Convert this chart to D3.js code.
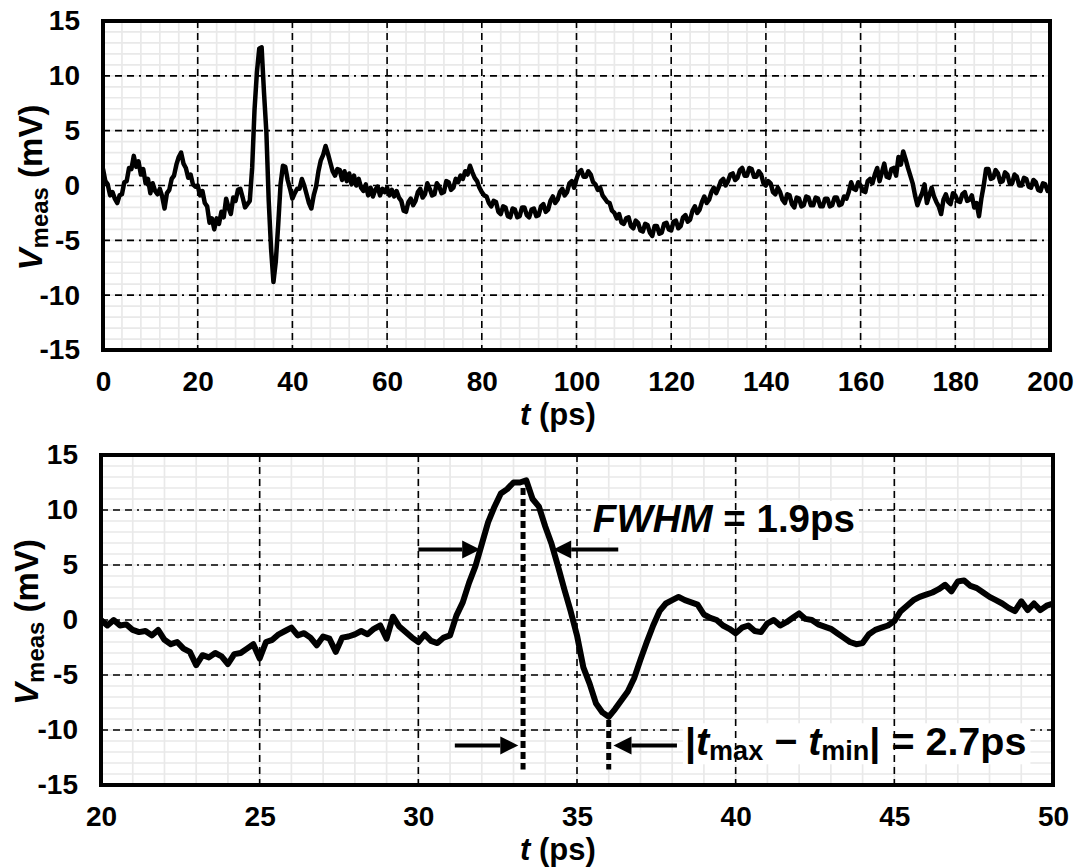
<!DOCTYPE html>
<html><head><meta charset="utf-8">
<script src="https://cdn.jsdelivr.net/npm/d3@7"></script>
<style>
body{margin:0;background:#fff}
text{font-family:"Liberation Sans",Arial,Helvetica,sans-serif;font-weight:bold;fill:#000}
</style>
</head><body>
<svg id="chart" width="1080" height="867"></svg>
<script>
// ---------- DATA ----------
// Top panel: full 0–200 ps record, 0.5 ps sampling
const topTimes = d3.range(0, 401).map(i => i * 0.5);
const topValues = [
 1.5, 0.4, 0.1,-0.9,-0.6,-1.2,-1.6,-0.9,-0.8, 0.3,   // 0–4.5
 0.4, 1.6, 1.5, 2.7, 1.7, 2.2, 1.0, 1.5, 0.2, 0.6,   // 5–9.5
-0.7, 0.2,-0.5,-0.8,-0.3,-1.0,-2.1,-0.7,-0.4, 0.6,   // 10–14.5
 0.9, 1.9, 2.6, 3.0, 2.0, 1.6, 0.7, 1.0, 0.1,-0.1,   // 15–19.5
 0.0,-0.9,-0.5,-1.6,-1.9,-3.4,-3.0,-4.0,-3.0,-3.5,   // 20–24.5
-2.4,-2.9,-1.2,-2.0,-2.6,-1.1,-1.4,-0.4,-0.3,-1.1,   // 25–29.5
-2.0,-1.7,-1.4, 1.6, 6.9,10.3,12.5,12.6, 8.5, 4.9,   // 30–34.5
-1.4,-5.8,-8.8,-6.9,-3.6, 0.1, 1.8, 1.7, 0.5,-0.3,   // 35–39.5
-1.2,-0.7,-0.3,-0.3, 0.6, 0.0,-0.8,-1.6,-2.1,-0.9,   // 40–44.5
-0.1, 1.3, 2.3, 2.8, 3.6, 2.9, 2.1, 1.3, 0.9, 1.5,   // 45–49.5
 1.4, 0.5, 1.3, 0.4, 1.1, 0.1, 0.9, 0.0, 0.6,-0.2,   // 50–54.5
-0.5, 0.1,-0.9,-0.2,-1.0,-0.4,-0.1,-0.9,-0.3,-0.6,   // 55–59.5
-0.2,-0.9,-0.4,-1.0,-0.5,-1.1,-1.4,-2.3,-2.4,-1.5,   // 60–64.5
-1.2,-1.8,-1.4,-0.6,-0.3,-1.1,-0.8, 0.2,-0.3,-0.9,   // 65–69.5
-0.8, 0.2,-0.1,-0.7,-0.6, 0.4, 0.3,-0.4,-0.2, 0.6,   // 70–74.5
 0.3, 0.9, 0.6, 1.3, 1.0, 1.8, 1.2, 0.7, 0.4,-0.2,   // 75–79.5
-0.6,-0.9,-1.0,-1.6,-1.9,-1.4,-1.5,-2.4,-2.6,-1.9,   // 80–84.5
-2.0,-2.8,-2.9,-2.1,-2.2,-2.9,-2.8,-2.0,-2.0,-2.7,   // 85–89.5
-2.9,-2.2,-2.1,-2.8,-2.7,-1.9,-1.7,-2.4,-2.2,-1.4,   // 90–94.5
-1.0,-1.6,-1.3,-0.6,-0.3,-0.9,-0.6, 0.2, 0.4,-0.2,   // 95–99.5
 0.6, 1.2, 1.4, 0.8, 0.8, 1.3, 1.0, 0.3, 0.1,-0.4,   // 100–104.5
-0.2,-0.9,-1.2,-1.5,-1.6,-2.3,-2.5,-3.0,-2.6,-3.4,   // 105–109.5
-3.5,-3.0,-2.9,-3.7,-3.9,-3.2,-3.4,-4.1,-4.2,-3.5,   // 110–114.5
-3.6,-4.3,-4.6,-3.7,-3.7,-4.4,-4.3,-3.5,-3.4,-4.0,   // 115–119.5
-4.1,-3.3,-3.2,-3.9,-3.7,-2.9,-2.7,-3.3,-3.1,-2.3,   // 120–124.5
-1.9,-2.5,-2.2,-1.5,-1.0,-1.6,-1.3,-0.6,-0.2,-0.7,   // 125–129.5
-0.2, 0.4, 0.6, 0.0, 0.4, 1.0, 1.1, 0.5, 0.7, 1.4,   // 130–134.5
 1.6, 0.9, 0.9, 1.6, 1.5, 0.8, 0.8, 1.3, 1.0, 0.2,   // 135–139.5
 0.0, 0.4, 0.2,-0.6,-0.8,-0.2,-0.6,-1.3,-1.6,-0.8,   // 140–144.5
-0.9,-1.7,-2.0,-1.1,-1.2,-1.9,-1.8,-1.0,-1.1,-1.8,   // 145–149.5
-1.8,-1.1,-1.2,-1.9,-1.9,-1.2,-1.2,-1.9,-1.8,-1.1,   // 150–154.5
-1.1,-1.8,-1.7,-1.0,-1.2,-0.6, 0.3,-0.3,-0.4, 0.3,   // 155–159.5
 0.0,-0.5,-0.6, 0.4, 0.6, 0.2, 1.0, 1.6, 0.4, 1.2,   // 160–164.5
 2.0, 0.8, 0.7, 1.5, 1.6, 0.9, 2.6, 1.9, 3.1, 2.4,   // 165–169.5
 1.6, 0.9, 0.2,-0.9,-1.8,-1.2,-0.7, 0.1,-1.6,-0.9,   // 170–174.5
-0.2,-1.0,-1.5,-1.9,-2.6,-1.3,-0.8,-1.5,-1.7,-0.7,   // 175–179.5
-0.9,-1.4,-1.5,-0.8,-0.6,-1.4,-1.3,-0.9,-2.0,-1.6,   // 180–184.5
-2.8,-1.2, 0.0, 1.5, 1.5, 0.6, 0.7, 1.4, 1.1, 0.3,   // 185–189.5
 0.4, 1.2, 1.0, 0.2, 0.2, 1.0, 0.8, 0.0, 0.0, 0.7,   // 190–194.5
 0.6,-0.1,-0.2, 0.5, 0.3,-0.4,-0.5, 0.2, 0.1,-0.5,   // 195–199.5
-0.3                                                 // 200
];

// Bottom panel: zoom 20–50 ps, 0.2 ps sampling
const bottomTimes = d3.range(0, 151).map(i => +(20 + i * 0.2).toFixed(1));
const bottomValues = [
 0.0,-0.5, 0.0,-0.5,-0.4,-0.9,-1.1,-1.0,-1.4,-0.9,
-1.8,-2.2,-2.0,-2.6,-2.9,-4.1,-3.2,-3.4,-3.0,-3.3,
-4.0,-3.1,-3.0,-2.6,-2.2,-3.5,-2.0,-1.8,-1.3,-1.0,
-0.7,-1.4,-1.2,-1.6,-2.3,-1.5,-1.7,-2.9,-1.6,-1.5,
-1.3,-1.0,-1.3,-0.8,-0.5,-1.7, 0.3,-0.6,-1.1,-1.6,
-2.0,-1.3,-1.9,-2.1,-1.6,-1.4, 0.4, 1.6, 3.4, 4.9,
 6.9, 8.9,10.3,11.5,11.9,12.5,12.5,12.7,11.0,10.3,
 8.5, 6.9, 4.9, 2.8, 0.8,-1.4,-4.3,-5.8,-7.6,-8.4,
-8.8,-8.1,-7.3,-6.5,-5.3,-3.6,-2.0,-0.5, 0.8, 1.5,
 1.8, 2.1, 1.8, 1.6, 1.4, 0.5, 0.2, 0.0,-0.5,-0.8,
-1.2,-0.7,-0.5,-1.0,-1.1,-0.3, 0.0,-0.5,-0.2, 0.2,
 0.6, 0.1, 0.0,-0.4,-0.6,-0.8,-1.2,-1.6,-2.0,-2.2,
-2.1,-1.3,-0.9,-0.7,-0.5,-0.1, 0.8, 1.3, 1.8, 2.1,
 2.3, 2.5, 2.8, 3.2, 2.6, 3.5, 3.6, 3.1, 2.9, 2.5,
 2.1, 1.8, 1.5, 1.1, 0.8, 1.7, 0.9, 1.5, 0.9, 1.3,
 1.5
];

// Tick labels
const topXTicks = [0, 20, 40, 60, 80, 100, 120, 140, 160, 180, 200];
const bottomXTicks = [20, 25, 30, 35, 40, 45, 50];
const yTicks = [-15, -10, -5, 0, 5, 10, 15];

// Annotation values (bottom panel)
const tPeak = 33.3;          // t_max
const tTrough = 36.0;        // t_min
const fwhmLeftArrow = [30.0, 31.95];   // tail, tip (ps)
const fwhmRightArrow = [36.3, 34.25];  // tail, tip (ps)
const halfMaxV = 6.4;
const gapArrowLeft = [31.15, 33.15];
const gapArrowRight = [38.15, 36.15];
const gapArrowV = -11.4;

// ---------- DRAW ----------
const svg = d3.select("#chart");
const FONT = "Liberation Sans, Arial, sans-serif";
const plainFmt = d => String(d);   // ASCII hyphen for negatives, as in the original

function panel(cfg) {
  const g = svg.append("g");
  const x = d3.scaleLinear().domain(cfg.xDomain).range([cfg.left, cfg.right]);
  const y = d3.scaleLinear().domain([-15, 15]).range([cfg.bottom, cfg.top]);

  // minor grid
  const minorX = d3.range(cfg.xDomain[0], cfg.xDomain[1] + 1e-9, cfg.minorX);
  const minorY = d3.range(-15, 15 + 1e-9, 1);
  g.append("g").selectAll("line").data(minorX).join("line")
    .attr("x1", d => x(d)).attr("x2", d => x(d))
    .attr("y1", cfg.top).attr("y2", cfg.bottom)
    .attr("stroke", "#e9e9e9").attr("stroke-width", 1.7);
  g.append("g").selectAll("line").data(minorY).join("line")
    .attr("y1", d => y(d)).attr("y2", d => y(d))
    .attr("x1", cfg.left).attr("x2", cfg.right)
    .attr("stroke", "#e9e9e9").attr("stroke-width", 1.7);

  const majorH = g.append("g");
  const overlay = g.append("g");
  const majorV = g.append("g");

  // major horizontal grid (dash-dot)
  majorH.selectAll("line").data(yTicks.slice(1, -1)).join("line")
    .attr("y1", d => y(d)).attr("y2", d => y(d))
    .attr("x1", cfg.left).attr("x2", cfg.right)
    .attr("stroke", "#000").attr("stroke-width", 1.6)
    .attr("stroke-dasharray", "7,5,7,5,7,5,2,5");
  // major vertical grid (dashed)
  majorV.selectAll("line").data(cfg.xTicks.slice(1, -1)).join("line")
    .attr("x1", d => x(d)).attr("x2", d => x(d))
    .attr("y1", cfg.top).attr("y2", cfg.bottom)
    .attr("stroke", "#000").attr("stroke-width", 1.6)
    .attr("stroke-dasharray", "7,5");

  // trace
  const clipId = "clip" + cfg.id;
  svg.append("clipPath").attr("id", clipId).append("rect")
    .attr("x", cfg.left).attr("y", cfg.top)
    .attr("width", cfg.right - cfg.left).attr("height", cfg.bottom - cfg.top);
  const line = d3.line().x((d, i) => x(cfg.times[i])).y(d => y(d));
  g.append("path").datum(cfg.values)
    .attr("d", line).attr("fill", "none").attr("stroke", "#000")
    .attr("stroke-width", cfg.lineWidth).attr("stroke-linejoin", "round")
    .attr("stroke-linecap", "round").attr("clip-path", `url(#${clipId})`);

  // frame
  g.append("rect").attr("x", cfg.left).attr("y", cfg.top)
    .attr("width", cfg.right - cfg.left).attr("height", cfg.bottom - cfg.top)
    .attr("fill", "none").attr("stroke", "#000").attr("stroke-width", 4);

  // axes
  const yAxis = d3.axisLeft(y).tickValues(yTicks).tickSize(0).tickPadding(23).tickFormat(plainFmt);
  const ya = g.append("g").attr("transform", `translate(${cfg.left},0)`).call(yAxis);
  ya.select(".domain").remove();
  ya.selectAll("text").attr("font-size", 28).attr("font-family", FONT).attr("font-weight", "bold");

  const xAxis = d3.axisBottom(x).tickValues(cfg.xTicks).tickSize(0).tickPadding(21).tickFormat(plainFmt);
  const xa = g.append("g").attr("transform", `translate(0,${cfg.bottom})`).call(xAxis);
  xa.select(".domain").remove();
  xa.selectAll("text").attr("font-size", 28).attr("font-family", FONT).attr("font-weight", "bold");

  // axis titles
  const xt = g.append("text").attr("x", 558).attr("y", cfg.bottom + 75)
    .attr("text-anchor", "middle").attr("font-size", 31);
  xt.append("tspan").attr("font-style", "italic").text("t");
  xt.append("tspan").text(" (ps)");

  const yt = g.append("text").attr("transform", `translate(${cfg.yTitleX},${(cfg.top + cfg.bottom) / 2 + 2}) rotate(-90)`)
    .attr("text-anchor", "middle").attr("font-size", 33);
  yt.append("tspan").attr("font-style", "italic").text("V");
  yt.append("tspan").attr("font-size", 24).attr("dy", 6).text("meas");
  yt.append("tspan").attr("dy", -6).text(" (mV)");

  return { g, x, y, overlay };
}

const topPanel = panel({
  id: "top", left: 103, right: 1050, top: 21, bottom: 350,
  xDomain: [0, 200], minorX: 4, xTicks: topXTicks,
  times: topTimes, values: topValues, lineWidth: 4.5, yTitleX: 42
});

const botPanel = panel({
  id: "bot", left: 101, right: 1053, top: 455, bottom: 785,
  xDomain: [20, 50], minorX: 1, xTicks: bottomXTicks,
  times: bottomTimes, values: bottomValues, lineWidth: 6, yTitleX: 38
});

// ---------- ANNOTATIONS (bottom panel) ----------
const bg = botPanel.g, bx = botPanel.x, by = botPanel.y, overlay = botPanel.overlay;
const ann = bg.append("g");

function arrow(t0, t1, v) {
  const x0 = bx(t0), x1 = bx(t1), yy = by(v);
  const dir = Math.sign(x1 - x0);
  const headL = 18, headH = 9;
  ann.append("line").attr("x1", x0).attr("x2", x1 - dir * headL).attr("y1", yy).attr("y2", yy)
    .attr("stroke", "#000").attr("stroke-width", 4);
  ann.append("path")
    .attr("d", `M${x1},${yy} L${x1 - dir * headL},${yy - headH} L${x1 - dir * headL},${yy + headH} Z`)
    .attr("fill", "#000");
}

function labelWithBg(builder) {
  const t = ann.append("text");
  builder(t);
  const bb = t.node().getBBox();
  overlay.append("rect").attr("x", bb.x - 2).attr("y", bb.y + 4)
    .attr("width", bb.width + 6).attr("height", bb.height - 6).attr("fill", "#fff");
  return t;
}

labelWithBg(t => {
  t.attr("x", bx(35.5)).attr("y", by(8.0)).attr("font-size", 38.5);
  t.append("tspan").attr("font-style", "italic").text("FWHM");
  t.append("tspan").text(" = 1.9ps");
});

labelWithBg(t => {
  t.attr("x", bx(38.4)).attr("y", by(-12.3)).attr("font-size", 39.5);
  t.append("tspan").text("|");
  t.append("tspan").attr("font-style", "italic").text("t");
  t.append("tspan").attr("font-size", 27).attr("dy", 5).text("max");
  t.append("tspan").attr("dy", -5).text(" \u2212 ");
  t.append("tspan").attr("font-style", "italic").text("t");
  t.append("tspan").attr("font-size", 27).attr("dy", 5).text("min");
  t.append("tspan").attr("dy", -5).text("| = 2.7ps");
});

// dotted vertical markers
ann.append("line").attr("x1", bx(tPeak)).attr("x2", bx(tPeak))
  .attr("y1", by(12.0)).attr("y2", by(-13.6))
  .attr("stroke", "#000").attr("stroke-width", 5).attr("stroke-dasharray", "7,4");
ann.append("line").attr("x1", bx(tTrough)).attr("x2", bx(tTrough))
  .attr("y1", by(-9.1)).attr("y2", by(-13.6))
  .attr("stroke", "#000").attr("stroke-width", 5).attr("stroke-dasharray", "7,4");

arrow(fwhmLeftArrow[0], fwhmLeftArrow[1], halfMaxV);
arrow(fwhmRightArrow[0], fwhmRightArrow[1], halfMaxV);
arrow(gapArrowLeft[0], gapArrowLeft[1], gapArrowV);
arrow(gapArrowRight[0], gapArrowRight[1], gapArrowV);
</script>
</body></html>
